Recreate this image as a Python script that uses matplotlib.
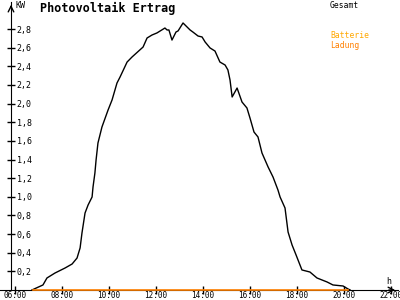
import matplotlib.pyplot as plt

# --- Data ---
hours = [6.72, 7.19, 7.36, 7.70, 8.13, 8.43, 8.64, 8.77, 8.85, 8.98, 9.11, 9.28,
         9.32, 9.40, 9.45, 9.53, 9.70, 9.96, 10.13, 10.34, 10.47, 10.77, 10.98,
         11.45, 11.62, 11.83, 12.04, 12.38, 12.47, 12.55, 12.68, 12.85, 12.94,
         13.15, 13.45, 13.57, 13.79, 13.96, 14.09, 14.30, 14.51, 14.72, 14.94,
         15.06, 15.15, 15.24, 15.45, 15.66, 15.87, 16.00, 16.17, 16.34, 16.51,
         16.77, 16.98, 17.19, 17.28, 17.49, 17.62, 17.79, 17.96, 18.21, 18.55,
         18.85, 19.28, 19.53, 19.96, 20.17, 20.26]
gesamt_kw = [0.0, 0.054, 0.129, 0.182, 0.236, 0.279, 0.343, 0.451, 0.612, 0.826,
             0.912, 0.998, 1.105, 1.255, 1.395, 1.577, 1.749, 1.931, 2.039, 2.221,
             2.285, 2.446, 2.50, 2.607, 2.704, 2.736, 2.758, 2.811, 2.790, 2.790,
             2.682, 2.768, 2.780, 2.865, 2.790, 2.768, 2.725, 2.715, 2.661, 2.597,
             2.564, 2.446, 2.414, 2.361, 2.253, 2.071, 2.167, 2.017, 1.953, 1.845,
             1.695, 1.642, 1.470, 1.320, 1.212, 1.073, 0.998, 0.880, 0.622, 0.483,
             0.376, 0.215, 0.193, 0.129, 0.086, 0.054, 0.043, 0.011, 0.0]

ladung_hours = [6.77, 20.17]
ladung_kw = [0.0, 0.0]

y_ticks = [0.2, 0.4, 0.6, 0.8, 1.0, 1.2, 1.4, 1.6, 1.8, 2.0, 2.2, 2.4, 2.6, 2.8]
x_ticks = [6, 8, 10, 12, 14, 16, 18, 20, 22]
x_labels = ["06:00", "08:00", "10:00", "12:00", "14:00", "16:00", "18:00", "20:00", "22:00"]

FONT = "DejaVu Sans Mono"
ORANGE = "#FF8000"
ORANGE_LIGHT = "#FFA800"

fig = plt.figure(figsize=(4, 3), dpi=100)
ax = fig.add_axes([0, 10 / 300, 398 / 400, 288 / 300])

ax.plot(hours, gesamt_kw, color="black", lw=1)
ax.plot(ladung_hours, ladung_kw, color=ORANGE, lw=1.2, clip_on=False, zorder=5)

ax.set_xlim(6 - 15 / 23.5, 6 + 383 / 23.5)
ax.set_ylim(0, 288 / 93.2)

for s in ["top", "right"]:
    ax.spines[s].set_visible(False)
ax.spines["left"].set_position(("data", 6 - 4 / 23.5))

ax.set_xticks(x_ticks)
ax.set_xticklabels(x_labels, fontfamily=FONT, fontsize=5.5)
ax.set_yticks(y_ticks)
ax.set_yticklabels([f"{v:.1f}".replace(".", ",") for v in y_ticks],
                   fontfamily=FONT, fontsize=6, ha="left")
ax.tick_params(axis="both", direction="inout", length=6, width=1)
ax.tick_params(axis="y", pad=-7)
ax.tick_params(axis="x", pad=-2.5)

# axis arrows
ax.annotate("", xy=(1, 0), xytext=(0.97, 0), xycoords="axes fraction",
            arrowprops=dict(arrowstyle="->", lw=1, color="black"))
ax.annotate("", xy=(6 - 4 / 23.5, 1.0), xytext=(6 - 4 / 23.5, 0.97),
            xycoords=("data", "axes fraction"),
            arrowprops=dict(arrowstyle="->", lw=1, color="black"))

fig.text(15 / 400, 1 - 5 / 300, "KW", fontfamily=FONT, fontsize=6, va="center")
fig.text(40 / 400, 1 - 8 / 300, "Photovoltaik Ertrag", fontfamily=FONT,
         fontsize=8.5, fontweight="bold", va="center")
fig.text(330 / 400, 1 - 5 / 300, "Gesamt", fontfamily=FONT, fontsize=5.8, va="center")
fig.text(330 / 400, 1 - 36 / 300, "Batterie", fontfamily=FONT, fontsize=5.8,
         va="center", color=ORANGE_LIGHT)
fig.text(330 / 400, 1 - 45 / 300, "Ladung", fontfamily=FONT, fontsize=5.8,
         va="center", color=ORANGE)
fig.text(386 / 400, 1 - 282 / 300, "h", fontfamily=FONT, fontsize=6, va="center")

fig.savefig("out.png", dpi=100)
